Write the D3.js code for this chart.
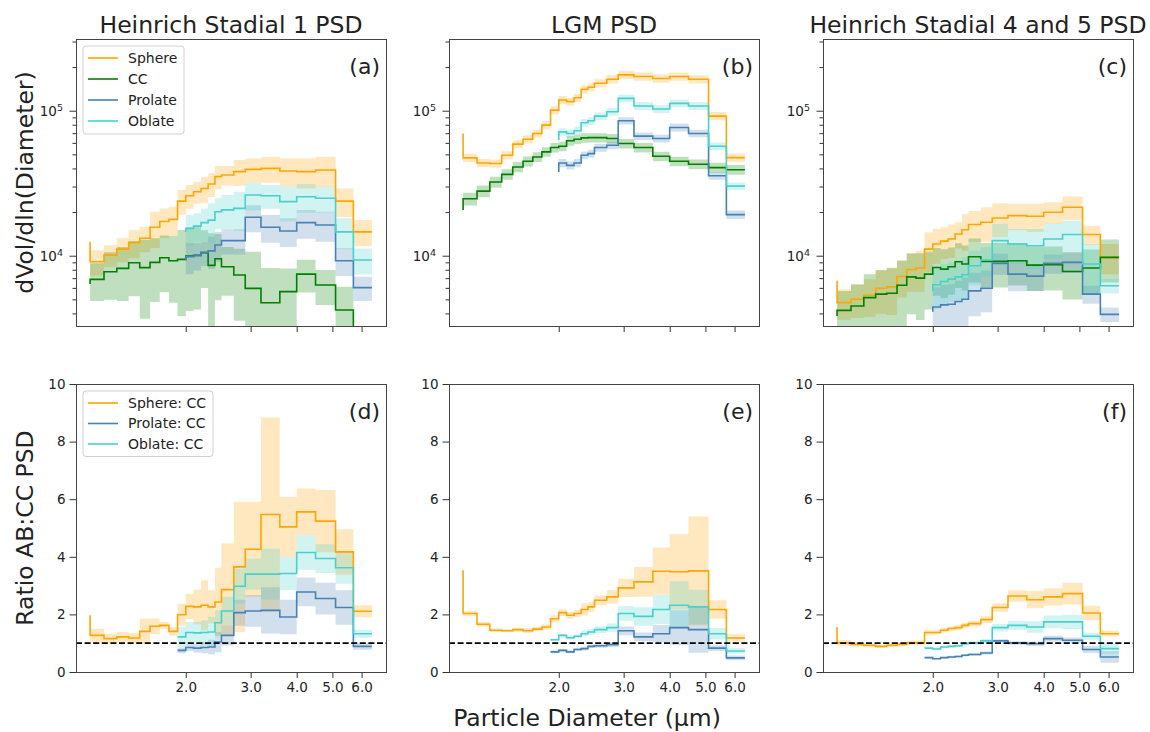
<!DOCTYPE html>
<html>
<head>
<meta charset="utf-8">
<script src="https://cdn.jsdelivr.net/npm/d3@7"></script>
<style>
body { margin: 0; background: #fff; }
text { font-family: "DejaVu Sans", sans-serif; fill: #222; }
</style>
</head>
<body>
<div id="chart"></div>
<script>
var N = null;

var diam = [1.1, 1.2, 1.3, 1.4, 1.5, 1.6, 1.7, 1.8, 1.9, 2.0, 2.1, 2.2, 2.3, 2.4, 2.5, 2.7, 2.9, 3.2, 3.6, 4.0, 4.5, 5.1, 5.7, 6.4];
var xTicks = [2, 3, 4, 5, 6];
var ratioTicks = [0, 2, 4, 6, 8, 10];
var titles = ["Heinrich Stadial 1 PSD", "LGM PSD", "Heinrich Stadial 4 and 5 PSD"];
var psdNames = ["Sphere", "CC", "Prolate", "Oblate"];
var ratioNames = ["Sphere: CC", "Prolate: CC", "Oblate: CC"];

// Heinrich Stadial 1
var hs1Sphere = [12500, 9090, 10100, 11100, 12300, 13200, 15700, 17200, 17800, 23800, 25900, 27600, 29100, 31200, 35100, 36000, 38000, 39400, 40000, 38400, 38000, 39000, 23800, 14600];
var hs1SphereSd = [2100, 1800, 1700, 2100, 2700, 2650, 4400, 4000, 4000, 4600, 4800, 4800, 6000, 5800, 6400, 5500, 7700, 7500, 8200, 8500, 8900, 9200, 5300, 3000];
var hs1CC = [6380, 6870, 7760, 8180, 8950, 8270, 9000, 9690, 9240, 9430, 9950, 10050, 10500, 8580, 9530, 8400, 7360, 5950, 4740, 5650, 7470, 6280, 4220, 2500];
var hs1CCSd = [1500, 2000, 2800, 3300, 3700, 4600, 4200, 4100, 4500, 5600, 5800, 5800, 4500, 5700, 4600, 3100, 3800, 4700, 3500, 2500, 1900, 1700, 1900, 500];
var hs1Pro = [N, N, N, N, N, N, N, N, N, 9300, 9840, 10050, 10500, 10800, 11850, 12700, 12700, 18400, 15700, 14800, 16900, 16300, 9240, 6020];
var hs1ProSd = [N, N, N, N, N, N, N, N, N, 2000, 2400, 2150, 2000, 2700, 2750, 2500, 2500, 3900, 3400, 3300, 3800, 3800, 2000, 1140];
var hs1Obl = [N, N, N, N, N, N, N, N, N, 14600, 15400, 16000, 16900, 17600, 20100, 20700, 21200, 26200, 25900, 23600, 25500, 24900, 14600, 9330];
var hs1OblSd = [N, N, N, N, N, N, N, N, N, 3600, 3700, 3600, 4300, 5400, 4800, 5500, 6400, 5700, 4800, 6300, 5700, 5000, 3500, 1900];

// LGM
var lgmSphere = [69700, 47300, 43600, 43200, 49300, 58800, 63600, 69700, 79600, 101000, 118600, 115500, 123000, 140500, 145000, 154700, 164900, 176600, 172000, 166700, 172000, 164900, 91800, 47500];
var lgmSphereSd = [4000, 3100, 2800, 2800, 3200, 3800, 4100, 4500, 5200, 6500, 7700, 7500, 8000, 9100, 9400, 10000, 10700, 11500, 11200, 10800, 11200, 10700, 6000, 3100];
var lgmCC = [20700, 24700, 27900, 32200, 36400, 40900, 44800, 48000, 52000, 55700, 56900, 62000, 63600, 65000, 65200, 65200, 64300, 59400, 55700, 48500, 44800, 42700, 40500, 39200];
var lgmCCSd = [2500, 2500, 2600, 2800, 3000, 3300, 3500, 3700, 3900, 4200, 4300, 4600, 4800, 4800, 4800, 4800, 4800, 4500, 4200, 3700, 3400, 3300, 3200, 3100];
var lgmPro = [N, N, N, N, N, N, N, N, N, 37800, 43600, 42000, 43600, 49300, 50600, 55700, 57800, 85200, 66800, 64300, 76600, 69700, 35600, 19200];
var lgmProSd = [N, N, N, N, N, N, N, N, N, 2500, 2800, 2700, 2800, 3100, 3200, 3500, 3600, 5000, 4000, 3900, 4600, 4200, 2200, 1300];
var lgmObl = [N, N, N, N, N, N, N, N, N, 62600, 71500, 69700, 72700, 82600, 85200, 91800, 98400, 121700, 107700, 102700, 112400, 107700, 56900, 30200];
var lgmOblSd = [N, N, N, N, N, N, N, N, N, 3800, 4300, 4200, 4400, 5000, 5100, 5500, 5900, 7300, 6500, 6200, 6700, 6500, 3400, 1800];

// Heinrich Stadial 4 and 5
var h45Sphere = [6710, 4750, 5010, 5340, 5970, 6100, 7190, 8040, 8220, 11100, 12050, 12600, 13050, 14100, 15100, 16400, 17000, 18200, 18900, 18700, 19960, 21600, 14000, 9740];
var h45SphereSd = [1000, 1130, 1290, 1550, 1990, 2200, 2040, 2400, 2600, 3400, 3250, 3100, 3350, 2900, 4300, 3900, 4600, 4800, 3900, 4100, 3400, 4000, 2100, 2300];
var h45CC = [3840, 4200, 4500, 5140, 5430, 5510, 6260, 7150, 7000, 7460, 8300, 8080, 8390, 9090, 8760, 9840, 9140, 9140, 9230, 8610, 8660, 7790, 8220, 9740];
var h45CCSd = [1500, 1500, 1860, 2300, 2500, 2700, 3000, 3200, 3400, 3200, 3000, 3000, 3000, 3100, 3000, 3300, 3100, 3100, 3000, 2900, 2900, 2800, 2800, 3200];
var h45Pro = [N, N, N, N, N, N, N, N, N, 4110, 4430, 4580, 4630, 4830, 5010, 5720, 5970, 8850, 7460, 7230, 8850, 8990, 5430, 3940];
var h45ProSd = [N, N, N, N, N, N, N, N, N, 1500, 1600, 1700, 1730, 1880, 2070, 1900, 1900, 1450, 1770, 1530, 1350, 1400, 770, 450];
var h45Obl = [N, N, N, N, N, N, N, N, N, 5720, 6300, 6640, 6890, 7150, 7390, 8520, 9330, 12700, 12050, 11700, 13050, 14000, 8760, 6200];
var h45OblSd = [N, N, N, N, N, N, N, N, N, 2000, 2000, 2100, 2100, 2200, 2350, 2300, 2100, 3900, 3250, 3600, 3550, 3500, 3300, 690];

// ratios AB:CC
var hs1RSphere = [1.97, 1.27, 1.16, 1.22, 1.18, 1.41, 1.59, 1.62, 1.41, 1.99, 2.28, 2.26, 2.32, 2.26, 2.43, 2.86, 3.65, 4.26, 5.47, 5.04, 5.56, 5.24, 4.17, 2.11];
var hs1RSphereSd = [0.3, 0.23, 0.17, 0.17, 0.17, 0.44, 0.27, 0.12, 0.15, 0.38, 0.44, 0.6, 0.87, 0.58, 1.19, 1.6, 2.26, 1.65, 3.37, 1.04, 0.81, 1.08, 0.79, 0.21];
var hs1RPro = [N, N, N, N, N, N, N, N, 0.75, 0.75, 0.85, 0.83, 0.85, 0.87, 1.04, 1.27, 2.06, 2.12, 2.14, 1.91, 2.78, 2.55, 2.24, 0.89];
var hs1RProSd = [N, N, N, N, N, N, N, N, 0.08, 0.1, 0.12, 0.15, 0.2, 0.25, 0.35, 0.35, 0.45, 0.55, 0.8, 0.6, 0.5, 0.55, 0.6, 0.12];
var hs1RObl = [N, N, N, N, N, N, N, N, 1.22, 1.22, 1.37, 1.36, 1.37, 1.39, 1.71, 2.12, 2.98, 3.40, 3.40, 3.42, 4.15, 3.94, 3.62, 1.33];
var hs1ROblSd = [N, N, N, N, N, N, N, N, 0.35, 0.35, 0.37, 0.38, 0.43, 0.52, 0.43, 0.49, 0.61, 0.54, 0.89, 0.58, 0.60, 0.5, 0.56, 0.14];

var lgmRSphere = [3.53, 2.03, 1.66, 1.45, 1.43, 1.47, 1.43, 1.49, 1.56, 1.85, 2.06, 1.97, 2.03, 2.17, 2.26, 2.49, 2.61, 2.92, 3.13, 3.50, 3.48, 3.51, 2.17, 1.18];
var lgmRSphereSd = [0.1, 0.09, 0.08, 0.06, 0.05, 0.07, 0.08, 0.07, 0.09, 0.12, 0.12, 0.12, 0.12, 0.21, 0.17, 0.17, 0.23, 0.32, 0.52, 0.82, 1.30, 1.89, 0.32, 0.13];
var lgmRPro = [N, N, N, N, N, N, N, N, 0.70, 0.70, 0.75, 0.70, 0.78, 0.81, 0.89, 0.91, 0.95, 1.43, 1.22, 1.33, 1.54, 1.47, 0.83, 0.49];
var lgmRProSd = [N, N, N, N, N, N, N, N, 0.05, 0.05, 0.05, 0.05, 0.05, 0.06, 0.06, 0.07, 0.08, 0.15, 0.15, 0.3, 0.6, 0.8, 0.1, 0.08];
var lgmRObl = [N, N, N, N, N, N, N, N, 1.12, 1.12, 1.27, 1.19, 1.24, 1.33, 1.39, 1.47, 1.54, 2.03, 1.93, 2.17, 2.32, 2.26, 1.33, 0.73];
var lgmROblSd = [N, N, N, N, N, N, N, N, 0.04, 0.04, 0.06, 0.06, 0.06, 0.1, 0.1, 0.12, 0.14, 0.25, 0.32, 0.5, 0.83, 0.6, 0.2, 0.1];

var h45RSphere = [1.56, 1.01, 0.96, 0.93, 0.89, 0.93, 0.96, 1.01, 1.01, 1.37, 1.37, 1.45, 1.51, 1.54, 1.62, 1.68, 1.82, 2.24, 2.64, 2.51, 2.61, 2.72, 2.05, 1.33];
var h45RSphereSd = [0.1, 0.1, 0.08, 0.07, 0.06, 0.06, 0.07, 0.08, 0.08, 0.08, 0.07, 0.08, 0.08, 0.08, 0.09, 0.1, 0.12, 0.15, 0.2, 0.3, 0.3, 0.38, 0.25, 0.1];
var h45RPro = [N, N, N, N, N, N, N, N, 0.50, 0.50, 0.46, 0.50, 0.52, 0.54, 0.58, 0.61, 0.66, 1.08, 1.01, 0.98, 1.16, 1.10, 0.78, 0.52];
var h45RProSd = [N, N, N, N, N, N, N, N, 0.03, 0.03, 0.03, 0.03, 0.04, 0.04, 0.04, 0.05, 0.05, 0.06, 0.06, 0.08, 0.1, 0.1, 0.12, 0.2];
var h45RObl = [N, N, N, N, N, N, N, N, 0.83, 0.83, 0.80, 0.87, 0.89, 0.91, 0.98, 1.01, 1.08, 1.54, 1.62, 1.56, 1.74, 1.74, 1.24, 0.81];
var h45ROblSd = [N, N, N, N, N, N, N, N, 0.03, 0.03, 0.04, 0.04, 0.05, 0.05, 0.06, 0.06, 0.07, 0.13, 0.15, 0.2, 0.22, 0.25, 0.12, 0.18];

var colors = { Sphere: "#ffa500", CC: "#008000", Prolate: "#4682b4", Oblate: "#48d1cc" };

var psdPanels = [
    [[hs1Sphere, hs1SphereSd, "Sphere"], [hs1CC, hs1CCSd, "CC"], [hs1Pro, hs1ProSd, "Prolate"], [hs1Obl, hs1OblSd, "Oblate"]],
    [[lgmSphere, lgmSphereSd, "Sphere"], [lgmCC, lgmCCSd, "CC"], [lgmPro, lgmProSd, "Prolate"], [lgmObl, lgmOblSd, "Oblate"]],
    [[h45Sphere, h45SphereSd, "Sphere"], [h45CC, h45CCSd, "CC"], [h45Pro, h45ProSd, "Prolate"], [h45Obl, h45OblSd, "Oblate"]]
];
var ratioPanels = [
    [[hs1RSphere, hs1RSphereSd, "Sphere"], [hs1RPro, hs1RProSd, "Prolate"], [hs1RObl, hs1ROblSd, "Oblate"]],
    [[lgmRSphere, lgmRSphereSd, "Sphere"], [lgmRPro, lgmRProSd, "Prolate"], [lgmRObl, lgmROblSd, "Oblate"]],
    [[h45RSphere, h45RSphereSd, "Sphere"], [h45RPro, h45RProSd, "Prolate"], [h45RObl, h45ROblSd, "Oblate"]]
];

var width = 1150, height = 732;
var svg = d3.select("#chart")
    .append("svg")
    .attr("width", width)
    .attr("height", height);

var colLeft = [76, 449, 823];
var panelW = 310;
var rowTop = [39, 384];
var rowH = [287, 288];

var x = d3.scaleLog().domain([1.0073, 6.989]).range([0, panelW]);
var yPSD = d3.scaleLog().domain([3275, 312300]).range([rowH[0], 0]);
var yRatio = d3.scaleLinear().domain([0, 10]).range([rowH[1], 0]);

function drawSeries(g, y, vals, sd, name, floor) {
    var pts = diam.map(function(d, i) {
        return { x: d, v: vals[i], sd: sd[i] };
    });

    var area = d3.area()
        .defined(function(d) { return d.v != null; })
        .curve(d3.curveStepBefore)
        .x(function(d) { return x(d.x); })
        .y0(function(d) { return y(Math.max(d.v - d.sd, floor)); })
        .y1(function(d) { return y(d.v + d.sd); });

    g.select(".fills").append("path")
        .attr("d", area(pts))
        .attr("fill", colors[name])
        .attr("fill-opacity", 0.25);

    var line = d3.line()
        .defined(function(d) { return d.v != null; })
        .curve(d3.curveStepBefore)
        .x(function(d) { return x(d.x); })
        .y(function(d) { return y(Math.max(d.v, floor)); });

    g.select(".lines").append("path")
        .attr("d", line(pts))
        .attr("fill", "none")
        .attr("stroke", colors[name])
        .attr("stroke-width", 1.6);
}

function makePanel(col, row, id) {
    var g = svg.append("g")
        .attr("transform", "translate(" + colLeft[col] + "," + rowTop[row] + ")");
    var h = rowH[row];

    svg.append("clipPath").attr("id", "clip" + id)
        .append("rect").attr("width", panelW).attr("height", h);

    var plot = g.append("g").attr("clip-path", "url(#clip" + id + ")");
    plot.append("g").attr("class", "fills");
    plot.append("g").attr("class", "lines");

    var xAxis = d3.axisBottom(x)
        .tickValues(xTicks)
        .tickSize(6)
        .tickPadding(4)
        .tickFormat(row == 1 ? d3.format(".1f") : function() { return ""; });
    var xg = g.append("g")
        .attr("transform", "translate(0," + h + ")")
        .call(xAxis);
    xg.select(".domain").remove();
    xg.selectAll("text").style("font-size", "13.5px").attr("fill", "#222");
    xg.selectAll("line").attr("stroke", "#333");

    return { g: g, plot: plot, h: h };
}

function frame(p) {
    p.g.append("rect")
        .attr("width", panelW)
        .attr("height", p.h)
        .attr("fill", "none")
        .attr("stroke", "#444")
        .attr("stroke-width", 1)
        .attr("shape-rendering", "crispEdges");
}

function legend(g, names, boxW) {
    var rowGap = names.length == 4 ? 21 : 20.5;
    var boxH = names.length * rowGap + 4;
    var lg = g.append("g").attr("transform", "translate(7,7)");
    lg.append("rect")
        .attr("width", boxW)
        .attr("height", boxH)
        .attr("rx", 3)
        .attr("fill", "#fff")
        .attr("fill-opacity", 0.8)
        .attr("stroke", "#d0d0d0");
    names.forEach(function(n, i) {
        var key = n.split(":")[0];
        var yy = 12 + i * rowGap;
        lg.append("line")
            .attr("x1", 5).attr("x2", 35)
            .attr("y1", yy).attr("y2", yy)
            .attr("stroke", colors[key])
            .attr("stroke-width", 1.6);
        lg.append("text")
            .attr("x", 45)
            .attr("y", yy)
            .attr("dy", "0.35em")
            .style("font-size", "14px")
            .text(n);
    });
}

var letters = ["a", "b", "c", "d", "e", "f"];
var minorTicks = [4000, 5000, 6000, 7000, 8000, 9000, 20000, 30000, 40000, 50000, 60000, 70000, 80000, 90000, 200000, 300000];

psdPanels.forEach(function(series, col) {
    var p = makePanel(col, 0, "t" + col);

    series.forEach(function(s) {
        drawSeries(p.plot, yPSD, s[0], s[1], s[2], 1);
    });

    var minorAxis = d3.axisLeft(yPSD).tickValues(minorTicks).tickSize(3.5).tickFormat("");
    var ym = p.g.append("g").call(minorAxis);
    ym.select(".domain").remove();
    ym.selectAll("line").attr("stroke", "#333");

    var majorAxis = d3.axisLeft(yPSD).tickValues([10000, 100000]).tickSize(6.5).tickFormat("");
    var yM = p.g.append("g").call(majorAxis);
    yM.select(".domain").remove();
    yM.selectAll("line").attr("stroke", "#333");

    [[10000, "4"], [100000, "5"]].forEach(function(t) {
        var lab = p.g.append("text")
            .attr("x", -13)
            .attr("y", yPSD(t[0]))
            .attr("dy", "0.4em")
            .attr("text-anchor", "end")
            .style("font-size", "13.5px");
        lab.append("tspan").text("10");
        lab.append("tspan")
            .attr("dy", "-0.55em")
            .style("font-size", "9.5px")
            .text(t[1]);
    });

    frame(p);

    p.g.append("text")
        .attr("x", panelW - 6)
        .attr("y", 35)
        .attr("text-anchor", "end")
        .style("font-size", "22px")
        .text("(" + letters[col] + ")");

    svg.append("text")
        .attr("x", colLeft[col] + panelW / 2)
        .attr("y", 33)
        .attr("text-anchor", "middle")
        .style("font-size", "23.5px")
        .text(titles[col]);

    if (col == 0) legend(p.g, psdNames, 101);
});

ratioPanels.forEach(function(series, col) {
    var p = makePanel(col, 1, "b" + col);

    series.forEach(function(s) {
        drawSeries(p.plot, yRatio, s[0], s[1], s[2], -100);
    });

    p.plot.append("line")
        .attr("x1", 0).attr("x2", panelW)
        .attr("y1", yRatio(1)).attr("y2", yRatio(1))
        .attr("stroke", "#000")
        .attr("stroke-width", 1.8)
        .attr("stroke-dasharray", "6,2.6");

    var yAxis = d3.axisLeft(yRatio).tickValues(ratioTicks).tickSize(6.5).tickPadding(4);
    var yg = p.g.append("g").call(yAxis);
    yg.select(".domain").remove();
    yg.selectAll("line").attr("stroke", "#333");
    yg.selectAll("text").style("font-size", "13.5px").attr("fill", "#222");

    frame(p);

    p.g.append("text")
        .attr("x", panelW - 6)
        .attr("y", 35)
        .attr("text-anchor", "end")
        .style("font-size", "22px")
        .text("(" + letters[col + 3] + ")");

    if (col == 0) legend(p.g, ratioNames, 130);
});

svg.append("text")
    .attr("transform", "translate(33," + (rowTop[0] + rowH[0] / 2) + ") rotate(-90)")
    .attr("text-anchor", "middle")
    .style("font-size", "23.5px")
    .text("dVol/dln(Diameter)");

svg.append("text")
    .attr("transform", "translate(33," + (rowTop[1] + rowH[1] / 2) + ") rotate(-90)")
    .attr("text-anchor", "middle")
    .style("font-size", "23.5px")
    .text("Ratio AB:CC PSD");

svg.append("text")
    .attr("x", 587)
    .attr("y", 726)
    .attr("text-anchor", "middle")
    .style("font-size", "23.5px")
    .text("Particle Diameter (µm)");
</script>
</body>
</html>
